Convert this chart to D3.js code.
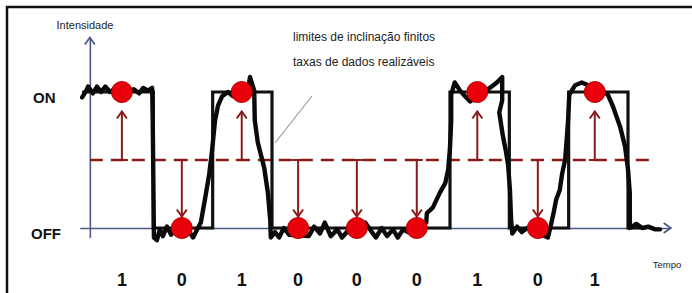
<!DOCTYPE html>
<html>
<head>
<meta charset="utf-8">
<script src="https://cdn.jsdelivr.net/npm/d3@7"></script>
<style>
  body { margin: 0; background: #fff; }
  svg { display: block; font-family: 'Liberation Sans', Arial, sans-serif; }
</style>
</head>
<body>
<svg id="chart" width="692" height="293"></svg>
<script>
// bit sequence and where it was sampled (time in bit periods)
const bits = [1, 0, 1, 0, 0, 0, 1, 0, 1];
const sampleT = [0.47, 1.48, 2.49, 3.44, 4.43, 5.44, 6.46, 7.48, 8.44];
const threshold = 0.5;
const levelLabels = [['ON', 1], ['OFF', 0]];
const noteLines = ['limites de inclinação finitos', 'taxas de dados realizáveis'];

const measured = [
  [-0.20, 0.96], [-0.13, 1.01], [-0.10, 1.04], [-0.02, 0.99], [0.05, 1.04],
  [0.12, 1.00], [0.19, 1.04], [0.27, 1.00], [0.37, 1.03], [0.57, 1.00],
  [0.67, 1.02], [0.76, 0.99], [0.83, 1.03], [0.91, 1.01], [0.98, 1.03],
  [0.99, 0.79], [1.01, -0.07], [1.06, -0.09], [1.11, -0.01], [1.16, -0.06],
  [1.23, 0.01], [1.30, -0.05], [1.38, 0.00], [1.58, -0.01], [1.67, -0.07],
  [1.74, -0.01], [1.80, 0.04], [1.87, 0.21], [1.94, 0.39], [1.99, 0.57],
  [2.04, 0.79], [2.09, 0.90], [2.16, 0.97], [2.26, 1.00], [2.34, 0.97],
  [2.60, 1.03], [2.63, 1.11], [2.70, 1.01], [2.71, 0.79], [2.76, 0.63],
  [2.87, 0.44], [2.93, 0.26], [2.97, 0.06], [2.98, -0.07], [3.05, -0.03],
  [3.12, -0.07], [3.20, 0.00], [3.29, -0.05], [3.62, -0.06], [3.71, 0.01],
  [3.81, -0.04], [3.89, 0.04], [3.99, -0.06], [4.10, -0.01], [4.18, -0.07],
  [4.28, -0.02], [4.57, 0.04], [4.65, -0.01], [4.75, -0.07], [4.85, 0.00],
  [4.94, -0.06], [5.04, -0.01], [5.12, -0.07], [5.21, -0.01], [5.29, -0.03],
  [5.60, 0.04], [5.61, 0.11], [5.71, 0.15], [5.83, 0.26], [5.92, 0.33],
  [5.97, 0.43], [6.00, 0.59], [6.02, 0.79], [6.02, 0.98], [6.08, 1.07],
  [6.17, 1.01], [6.25, 0.97], [6.34, 0.93], [6.67, 1.03], [6.79, 1.07],
  [6.88, 1.11], [6.88, 0.94], [6.83, 0.85], [6.89, 0.68], [6.94, 0.57],
  [6.98, 0.46], [7.01, 0.28], [7.03, 0.06], [7.05, -0.04], [7.13, 0.01],
  [7.21, -0.03], [7.30, 0.00], [7.65, -0.07], [7.70, 0.02], [7.75, 0.12],
  [7.79, 0.21], [7.85, 0.28], [7.89, 0.40], [7.94, 0.50], [7.96, 0.61],
  [7.99, 0.79], [8.01, 0.98], [8.11, 1.05], [8.22, 1.07], [8.60, 1.00],
  [8.66, 0.98], [8.75, 0.89], [8.87, 0.74], [8.95, 0.60], [9.00, 0.43],
  [9.03, 0.26], [9.03, 0.00], [9.14, 0.03], [9.24, 0.00], [9.34, 0.01],
  [9.46, -0.01], [9.54, -0.01],
];

const svg = d3.select('#chart');

const x = d3.scaleLinear().domain([0, 9]).range([94, 628]);
const y = d3.scaleLinear().domain([0, 1]).range([228, 92]);

const axisColor = '#4b5b86';
const darkRed = '#8b1a1a';

// frame
svg.append('rect')
    .attr('x', 7)
    .attr('y', 7)
    .attr('width', 720)
    .attr('height', 320)
    .attr('fill', '#fff')
    .attr('stroke', '#111')
    .attr('stroke-width', 2.5);

// axes (no ticks, only the arrow lines)
const xAxisScale = d3.scaleLinear()
    .domain([-0.24, 9.72])
    .range([x(-0.24), x(9.72)]);
const yAxisScale = d3.scaleLinear()
    .domain([-0.07, 1.4])
    .range([y(-0.07), y(1.4)]);

const gx = svg.append('g')
    .attr('transform', `translate(0,${y(0)})`)
    .call(d3.axisBottom(xAxisScale).tickValues([]).tickSizeOuter(0));
const gy = svg.append('g')
    .attr('transform', `translate(${x(-0.07)},0)`)
    .call(d3.axisLeft(yAxisScale).tickValues([]).tickSizeOuter(0));
[gx, gy].forEach((g) => {
  g.select('.domain').attr('stroke', axisColor).attr('stroke-width', 1.6);
});

const chevron = (px, py, dir, len, half) => {
  // open arrow head, dir = unit vector of pointing direction
  const bx = px - dir[0] * len;
  const by = py - dir[1] * len;
  return `M${bx - dir[1] * half},${by + dir[0] * half}L${px},${py}` +
    `L${bx + dir[1] * half},${by - dir[0] * half}`;
};

svg.append('path')
    .attr('d', chevron(xAxisScale.range()[1], y(0), [1, 0], 7, 5))
    .attr('fill', 'none')
    .attr('stroke', axisColor)
    .attr('stroke-width', 1.8);
svg.append('path')
    .attr('d', chevron(x(-0.07), yAxisScale.range()[1], [0, -1], 7, 5))
    .attr('fill', 'none')
    .attr('stroke', axisColor)
    .attr('stroke-width', 1.8);

// decision threshold
svg.append('line')
    .attr('x1', x(-0.07))
    .attr('x2', x(9.43))
    .attr('y1', y(threshold))
    .attr('y2', y(threshold))
    .attr('stroke', darkRed)
    .attr('stroke-width', 2.6)
    .attr('stroke-dasharray', '13,8');

// ideal square wave built from the bits
const square = [[-0.2, bits[0]]];
bits.forEach((b, i) => {
  if (i > 0 && b !== bits[i - 1]) square.push([i, b]);
});
square.push([bits.length, 0], [bits.length + 0.3, 0]);

svg.append('path')
    .datum(square)
    .attr('d', d3.line()
        .x((d) => x(d[0]))
        .y((d) => y(d[1]))
        .curve(d3.curveStepAfter))
    .attr('fill', 'none')
    .attr('stroke', '#111')
    .attr('stroke-width', 3.2);

// real, noisy signal
svg.append('path')
    .datum(measured)
    .attr('d', d3.line()
        .x((d) => x(d[0]))
        .y((d) => y(d[1])))
    .attr('fill', 'none')
    .attr('stroke', '#0a0a0a')
    .attr('stroke-width', 4.4)
    .attr('stroke-linejoin', 'round')
    .attr('stroke-linecap', 'round');

// annotation pointer
svg.append('line')
    .attr('x1', 312)
    .attr('y1', 96)
    .attr('x2', 275)
    .attr('y2', 143)
    .attr('stroke', '#9a9a9a')
    .attr('stroke-width', 1.2);

// decision arrows
const r = 10.5;
const arrows = svg.append('g')
    .attr('fill', 'none')
    .attr('stroke', darkRed)
    .attr('stroke-width', 2);
bits.forEach((b, i) => {
  const cx = x(sampleT[i]);
  const y0 = y(threshold);
  const tip = b ? y(1) + r + 9 : y(0) - r - 1;
  const dir = b ? [0, -1] : [0, 1];
  arrows.append('line')
      .attr('x1', cx).attr('x2', cx)
      .attr('y1', y0).attr('y2', tip);
  arrows.append('line')
      .attr('x1', cx - 6).attr('x2', cx + 6)
      .attr('y1', y0).attr('y2', y0);
  arrows.append('path')
      .attr('d', chevron(cx, tip, dir, 7, 5));
});

// samples
svg.append('g')
    .selectAll('circle')
    .data(bits)
    .join('circle')
    .attr('cx', (d, i) => x(sampleT[i]))
    .attr('cy', (d) => y(d))
    .attr('r', r)
    .attr('fill', '#e8000a')
    .attr('stroke', '#b30000')
    .attr('stroke-width', 1);

// bit values under the axis
svg.append('g')
    .selectAll('text')
    .data(bits)
    .join('text')
    .attr('x', (d, i) => x(sampleT[i]))
    .attr('y', 286)
    .attr('text-anchor', 'middle')
    .attr('font-size', 18)
    .attr('font-weight', 'bold')
    .attr('fill', '#111')
    .text((d) => d);

// level labels
svg.selectAll('.level')
    .data(levelLabels)
    .join('text')
    .attr('class', 'level')
    .attr('x', (d) => d[1] ? 33 : 31)
    .attr('y', (d) => y(d[1]) + 11)
    .attr('font-size', 15)
    .attr('font-weight', 'bold')
    .attr('fill', '#111')
    .text((d) => d[0]);

svg.append('text')
    .attr('x', 85)
    .attr('y', 29)
    .attr('text-anchor', 'middle')
    .attr('font-size', 11)
    .attr('fill', '#222')
    .text('Intensidade');

svg.append('text')
    .attr('x', 667)
    .attr('y', 268)
    .attr('text-anchor', 'middle')
    .attr('font-size', 9.5)
    .attr('fill', '#222')
    .text('Tempo');

svg.append('g')
    .selectAll('text')
    .data(noteLines)
    .join('text')
    .attr('x', 293)
    .attr('y', (d, i) => 41 + i * 25)
    .attr('font-size', 12)
    .attr('fill', '#222')
    .text((d) => d);
</script>
</body>
</html>
